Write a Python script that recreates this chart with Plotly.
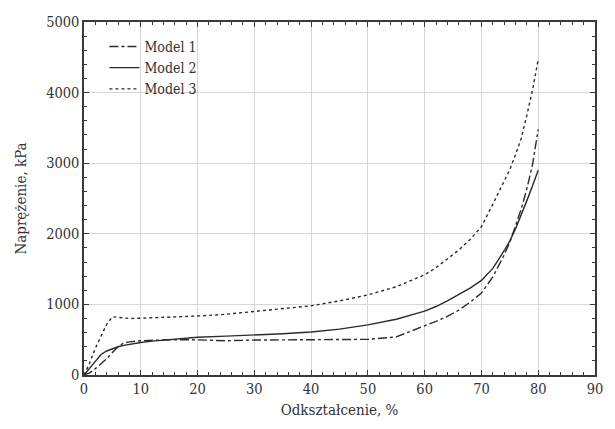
import plotly.graph_objects as go

strain = [0, 1, 2, 3, 4, 5, 6, 7, 8, 10, 12, 15, 20, 25, 30, 35, 40, 45, 50, 55,
          60, 62, 64, 66, 68, 70, 72, 74, 75, 76, 77, 78, 79, 80]

model1 = [0, 30, 90, 160, 230, 320, 400, 455, 470, 485, 495, 500, 498, 485, 495, 495,
          505, 500, 505, 540, 690, 760, 830, 920, 1030, 1160, 1390, 1700, 1880, 2100,
          2350, 2640, 2980, 3480]
model2 = [0, 100, 200, 290, 340, 375, 400, 420, 435, 460, 480, 500, 535, 550, 565, 585,
          610, 650, 710, 790, 905, 970, 1050, 1140, 1230, 1340, 1510, 1760, 1900, 2070,
          2260, 2470, 2680, 2900]
model3 = [0, 170, 380, 560, 720, 825, 815, 805, 800, 805, 810, 820, 835, 860, 900, 935,
          980, 1050, 1135, 1250, 1420, 1520, 1640, 1770, 1920, 2100, 2420, 2740, 2910,
          3120, 3350, 3680, 4040, 4470]

series_names = ["Model 1", "Model 2", "Model 3"]
x_ticks = [0, 10, 20, 30, 40, 50, 60, 70, 80, 90]
y_ticks = [0, 1000, 2000, 3000, 4000, 5000]

line_color = "#2b2b2b"
f_serif = "DejaVu Serif Condensed, DejaVu Serif, serif"

fig = go.Figure()
for name, ys, dash in zip(series_names, [model1, model2, model3], ["dashdot", "solid", "dot"]):
    fig.add_trace(go.Scatter(x=strain, y=ys, mode="lines", name=name,
                             line=dict(color=line_color, width=1.4, dash=dash)))

axis_common = dict(
    showgrid=True, gridcolor="#d6d6d6", gridwidth=1,
    showline=True, linecolor="#3a3a3a", linewidth=1.5, mirror="ticks",
    ticks="inside", ticklen=5, tickcolor="#3a3a3a",
    zeroline=False,
    tickfont=dict(family=f_serif, size=14.5, color="#333333"),
)

fig.update_layout(
    width=615, height=429,
    margin=dict(l=84, r=12, t=22, b=54),
    paper_bgcolor="white", plot_bgcolor="white",
    font=dict(family=f_serif, size=15, color="#333333"),
    showlegend=True,
    legend=dict(x=0.04, y=0.975, xanchor="left", yanchor="top",
                bgcolor="rgba(0,0,0,0)", borderwidth=0, itemwidth=30,
                tracegroupgap=0,
                font=dict(family=f_serif, size=14, color="#333333")),
    xaxis=dict(range=[0, 90], tickvals=x_ticks,
               title=dict(text="Odkształcenie, %", font=dict(family=f_serif, size=15), standoff=8),
               minor=dict(dtick=2, ticks="inside", ticklen=3, tickcolor="#3a3a3a", showgrid=False),
               **axis_common),
    yaxis=dict(range=[0, 5000], tickvals=y_ticks,
               title=dict(text="Naprężenie, kPa", font=dict(family=f_serif, size=15), standoff=16),
               minor=dict(dtick=200, ticks="inside", ticklen=3, tickcolor="#3a3a3a", showgrid=False),
               **axis_common),
)

fig.write_html("out.html")
